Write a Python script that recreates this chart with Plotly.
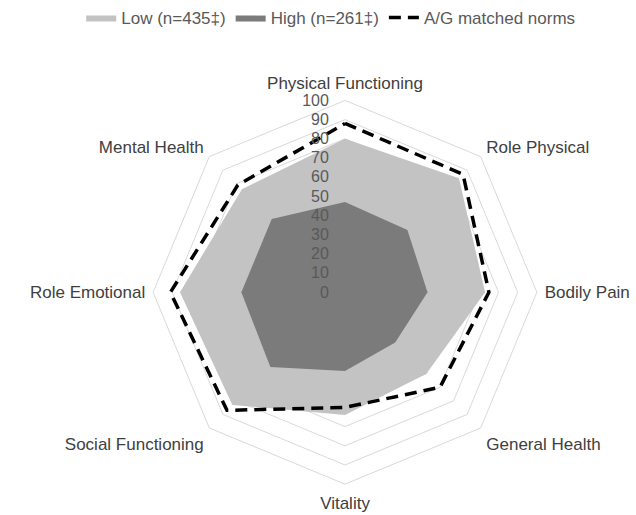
import plotly.graph_objects as go

categories = ["Physical Functioning", "Role Physical", "Bodily Pain", "General Health",
              "Vitality", "Social Functioning", "Role Emotional", "Mental Health"]
low_values = [80, 84, 73, 60, 64, 83, 86, 76]
high_values = [47, 46, 43, 37, 41, 55, 54, 54]
norm_values = [88, 87, 75, 70, 60, 87, 91, 79]
radial_ticks = list(range(0, 101, 10))

def closed(v):
    return v + v[:1]

cats_closed = closed(categories)

fig = go.Figure()
fig.add_trace(go.Scatterpolar(
    r=closed(low_values), theta=cats_closed, name="Low (n=435‡)",
    mode="lines", fill="toself", fillcolor="#c3c3c3",
    line=dict(color="#c3c3c3", width=0)))
fig.add_trace(go.Scatterpolar(
    r=closed(high_values), theta=cats_closed, name="High (n=261‡)",
    mode="lines", fill="toself", fillcolor="#7b7b7b",
    line=dict(color="#7b7b7b", width=0)))
fig.add_trace(go.Scatterpolar(
    r=closed(norm_values), theta=cats_closed, name="A/G matched norms",
    mode="lines", line=dict(color="#000000", width=3.5, dash="12px,7px")))

W, H = 636, 515
cx, cy, R = 345, 291, 193
fig.update_layout(
    width=W, height=H,
    margin=dict(l=0, r=0, t=0, b=0),
    paper_bgcolor="white", plot_bgcolor="white",
    font=dict(family="Liberation Sans, Arial, sans-serif", size=16, color="#404040"),
    showlegend=True,
    legend=dict(orientation="h", x=0.52, xanchor="center", y=1.006, yanchor="top",
                font=dict(size=17, color="#595959"), itemwidth=30),
    polar=dict(
        domain=dict(x=[(cx - R) / W, (cx + R) / W], y=[(H - cy - R) / H, (H - cy + R) / H]),
        bgcolor="white",
        gridshape="linear",
        angularaxis=dict(direction="clockwise", rotation=90, showgrid=False,
                         showline=True, linecolor="#d9d9d9", linewidth=1,
                         ticks="outside", ticklen=4, tickcolor="rgba(0,0,0,0)",
                         tickfont=dict(size=17, color="#404040")),
        radialaxis=dict(range=[0, 100], tickvals=radial_ticks, angle=90,
                        side="counterclockwise", showline=False,
                        showgrid=True, gridcolor="#d9d9d9", gridwidth=1,
                        ticks="outside", ticklen=10, tickcolor="rgba(0,0,0,0)",
                        tickangle=90,
                        tickfont=dict(size=16, color="#595959")),
    ),
)

fig.write_html("out.html", config={"displayModeBar": False},
               post_script="document.body.style.margin='0';")
